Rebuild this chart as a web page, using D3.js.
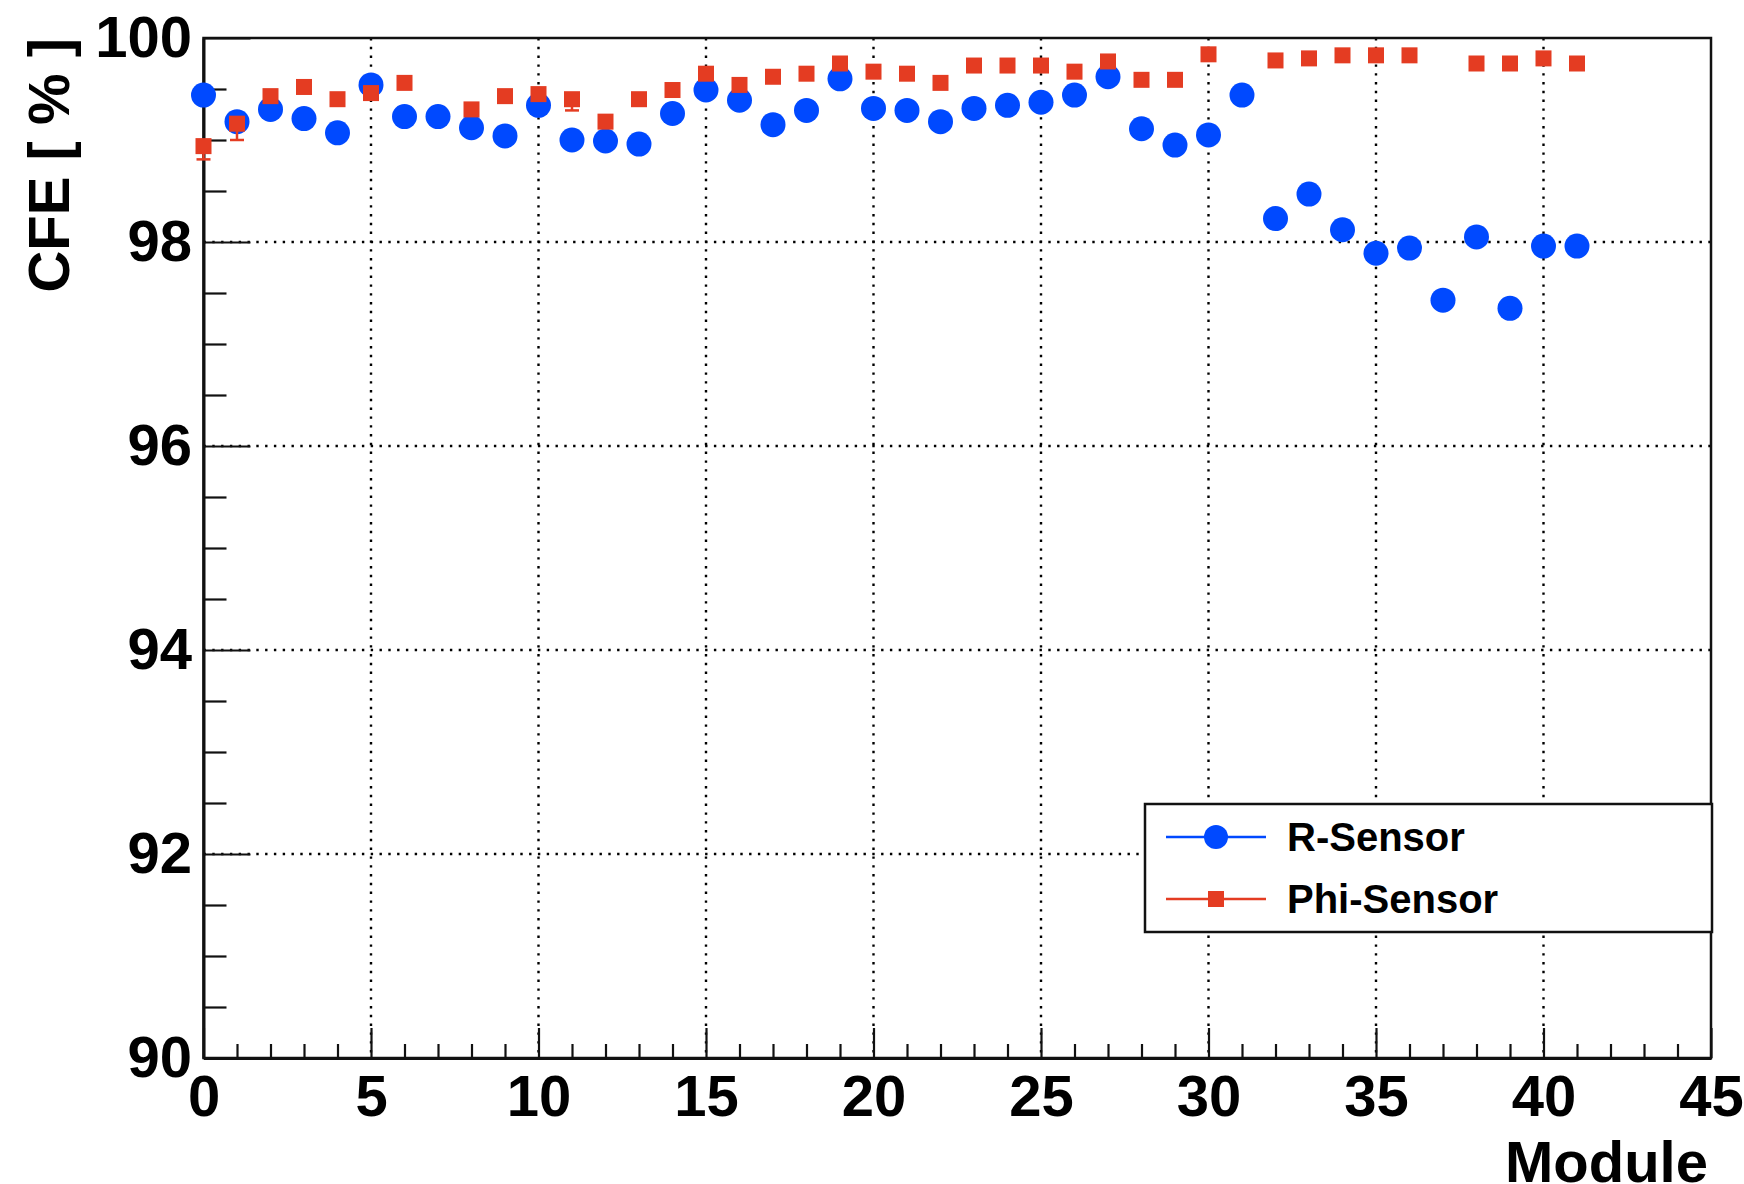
<!DOCTYPE html>
<html>
<head>
<meta charset="utf-8">
<script src="https://cdn.jsdelivr.net/npm/d3@7"></script>
<style>
  body { margin: 0; background: #fff; }
  text { font-family: "Liberation Sans", Arial, sans-serif; font-weight: bold; fill: #000; }
</style>
</head>
<body>
<div id="chart"></div>
<script>
// modules 0..41
var modules = d3.range(0, 42);

var rSensor = [99.44, 99.18, 99.30, 99.21, 99.07, 99.54, 99.23, 99.23, 99.12, 99.04,
               99.34, 99.00, 98.99, 98.96, 99.26, 99.49, 99.39, 99.15, 99.29, 99.60,
               99.31, 99.29, 99.18, 99.31, 99.34, 99.37, 99.44, 99.62, 99.11, 98.95,
               99.05, 99.44, 98.23, 98.47, 98.12, 97.89, 97.94, 97.43, 98.05, 97.35,
               97.96, 97.96];

// null = no point for that module
var phiSensor = [98.94, 99.16, 99.43, 99.52, 99.40, 99.46, 99.56, null, 99.30, 99.43,
                 99.45, 99.40, 99.18, 99.40, 99.49, 99.65, 99.54, 99.62, 99.65, 99.75,
                 99.67, 99.65, 99.56, 99.73, 99.73, 99.73, 99.67, 99.77, 99.59, 99.59,
                 99.84, null, 99.78, 99.80, 99.83, 99.83, 99.83, null, 99.75, 99.75,
                 99.80, 99.75];

// asymmetric errors (low side larger)
var phiErrLow = [0.13, 0.16, 0.02, 0.02, 0.02, 0.02, 0.02, null, 0.02, 0.02,
                 0.02, 0.11, 0.03, 0.02, 0.02, 0.02, 0.02, 0.02, 0.02, 0.02,
                 0.02, 0.02, 0.02, 0.02, 0.02, 0.02, 0.02, 0.02, 0.02, 0.02,
                 0.02, null, 0.02, 0.02, 0.02, 0.02, 0.02, null, 0.02, 0.02,
                 0.02, 0.02];
var phiErrHigh = [0.04, 0.05, 0.01, 0.01, 0.01, 0.01, 0.01, null, 0.01, 0.01,
                  0.01, 0.04, 0.01, 0.01, 0.01, 0.01, 0.01, 0.01, 0.01, 0.01,
                  0.01, 0.01, 0.01, 0.01, 0.01, 0.01, 0.01, 0.01, 0.01, 0.01,
                  0.01, null, 0.01, 0.01, 0.01, 0.01, 0.01, null, 0.01, 0.01,
                  0.01, 0.01];

var xMajor = [0, 5, 10, 15, 20, 25, 30, 35, 40, 45];
var yMajor = [90, 92, 94, 96, 98, 100];

var blue = "#0049ff", red = "#e43c22";

var W = 1744, H = 1184;
var frameL = 203.5, frameR = 1711, frameT = 38, frameB = 1058;

var svg = d3.select("#chart").append("svg")
    .attr("width", W)
    .attr("height", H);

svg.append("rect").attr("width", W).attr("height", H).attr("fill", "#fff");

var x = d3.scaleLinear().domain([0, 45]).range([frameL, frameR]);
var y = d3.scaleLinear().domain([90, 100]).range([frameB, frameT]);

// dotted grid
svg.append("g").selectAll("line")
    .data(xMajor.slice(1, -1))
    .enter().append("line")
    .attr("x1", function (d) { return x(d); })
    .attr("x2", function (d) { return x(d); })
    .attr("y1", frameT).attr("y2", frameB)
    .attr("stroke", "#000").attr("stroke-width", 2.4)
    .attr("stroke-dasharray", "2.4,6.4");

svg.append("g").selectAll("line")
    .data(yMajor.slice(1, -1))
    .enter().append("line")
    .attr("y1", function (d) { return y(d); })
    .attr("y2", function (d) { return y(d); })
    .attr("x1", frameL).attr("x2", frameR)
    .attr("stroke", "#000").attr("stroke-width", 2.4)
    .attr("stroke-dasharray", "2.4,6.4");

// frame
svg.append("rect")
    .attr("x", frameL).attr("y", frameT)
    .attr("width", frameR - frameL).attr("height", frameB - frameT)
    .attr("fill", "none").attr("stroke", "#111").attr("stroke-width", 2.5);

// x axis
var xAxis = svg.append("g")
    .attr("transform", "translate(0," + frameB + ")")
    .call(d3.axisBottom(x).tickValues(xMajor).tickSizeInner(-30).tickSizeOuter(0)
        .tickPadding(17).tickFormat(d3.format("d")));
svg.append("g")
    .attr("transform", "translate(0," + frameB + ")")
    .call(d3.axisBottom(x).tickValues(d3.range(0, 46).filter(function (d) { return d % 5 !== 0; }))
        .tickSizeInner(-14).tickSizeOuter(0).tickFormat(""))
    .select(".domain").remove();

// y axis
var yAxis = svg.append("g")
    .attr("transform", "translate(" + frameL + ",0)")
    .call(d3.axisLeft(y).tickValues(yMajor).tickSizeInner(-47).tickSizeOuter(0)
        .tickPadding(11.5).tickFormat(d3.format("d")));
svg.append("g")
    .attr("transform", "translate(" + frameL + ",0)")
    .call(d3.axisLeft(y).tickValues(d3.range(90.5, 100, 0.5).filter(function (d) { return d % 2 !== 0; }))
        .tickSizeInner(-23).tickSizeOuter(0).tickFormat(""))
    .select(".domain").remove();

svg.selectAll(".domain").attr("stroke", "#111").attr("stroke-width", 3);
svg.selectAll(".tick line").attr("stroke", "#111").attr("stroke-width", 2.2);
xAxis.selectAll("text").style("font-size", "58px").attr("fill", "#000");
yAxis.selectAll("text").style("font-size", "58px").attr("fill", "#000");

// axis titles
svg.append("text")
    .attr("x", 1708).attr("y", 1182)
    .attr("text-anchor", "end")
    .style("font-size", "58px")
    .text("Module");

svg.append("text")
    .attr("transform", "translate(69,38) rotate(-90)")
    .attr("text-anchor", "end")
    .style("font-size", "58px")
    .text("CFE [ % ]");

// R-Sensor
var rData = modules.map(function (m, i) { return {m: m, v: rSensor[i]}; });
svg.append("g").selectAll("circle")
    .data(rData)
    .enter().append("circle")
    .attr("cx", function (d) { return x(d.m); })
    .attr("cy", function (d) { return y(d.v); })
    .attr("r", 12.5)
    .attr("fill", blue);

// Phi-Sensor
var pData = modules.map(function (m, i) {
        return {m: m, v: phiSensor[i], lo: phiErrLow[i], hi: phiErrHigh[i]};
    })
    .filter(function (d) { return d.v !== null; });

var errG = svg.append("g").attr("stroke", red).attr("stroke-width", 2.5);
pData.forEach(function (d) {
    var y0 = y(d.v - d.lo), y1 = y(d.v + d.hi), cx = x(d.m);
    errG.append("line").attr("x1", cx).attr("x2", cx).attr("y1", y0).attr("y2", y1);
    errG.append("line").attr("x1", cx - 7).attr("x2", cx + 7).attr("y1", y0).attr("y2", y0);
    errG.append("line").attr("x1", cx - 7).attr("x2", cx + 7).attr("y1", y1).attr("y2", y1);
});

svg.append("g").selectAll("rect")
    .data(pData)
    .enter().append("rect")
    .attr("x", function (d) { return x(d.m) - 8; })
    .attr("y", function (d) { return y(d.v) - 8; })
    .attr("width", 16).attr("height", 16)
    .attr("fill", red);

// legend
var leg = svg.append("g");
leg.append("rect")
    .attr("x", 1145).attr("y", 804)
    .attr("width", 1712 - 1145).attr("height", 932 - 804)
    .attr("fill", "#fff").attr("stroke", "#111").attr("stroke-width", 2.5);

leg.append("line").attr("x1", 1166).attr("x2", 1266).attr("y1", 837).attr("y2", 837)
    .attr("stroke", blue).attr("stroke-width", 2.5);
leg.append("circle").attr("cx", 1216).attr("cy", 837).attr("r", 12).attr("fill", blue);
leg.append("text").attr("x", 1287).attr("y", 851).style("font-size", "40px").text("R-Sensor");

leg.append("line").attr("x1", 1166).attr("x2", 1266).attr("y1", 899).attr("y2", 899)
    .attr("stroke", red).attr("stroke-width", 2.5);
leg.append("rect").attr("x", 1208).attr("y", 891).attr("width", 16).attr("height", 16).attr("fill", red);
leg.append("text").attr("x", 1287).attr("y", 913).style("font-size", "40px").text("Phi-Sensor");
</script>
</body>
</html>
